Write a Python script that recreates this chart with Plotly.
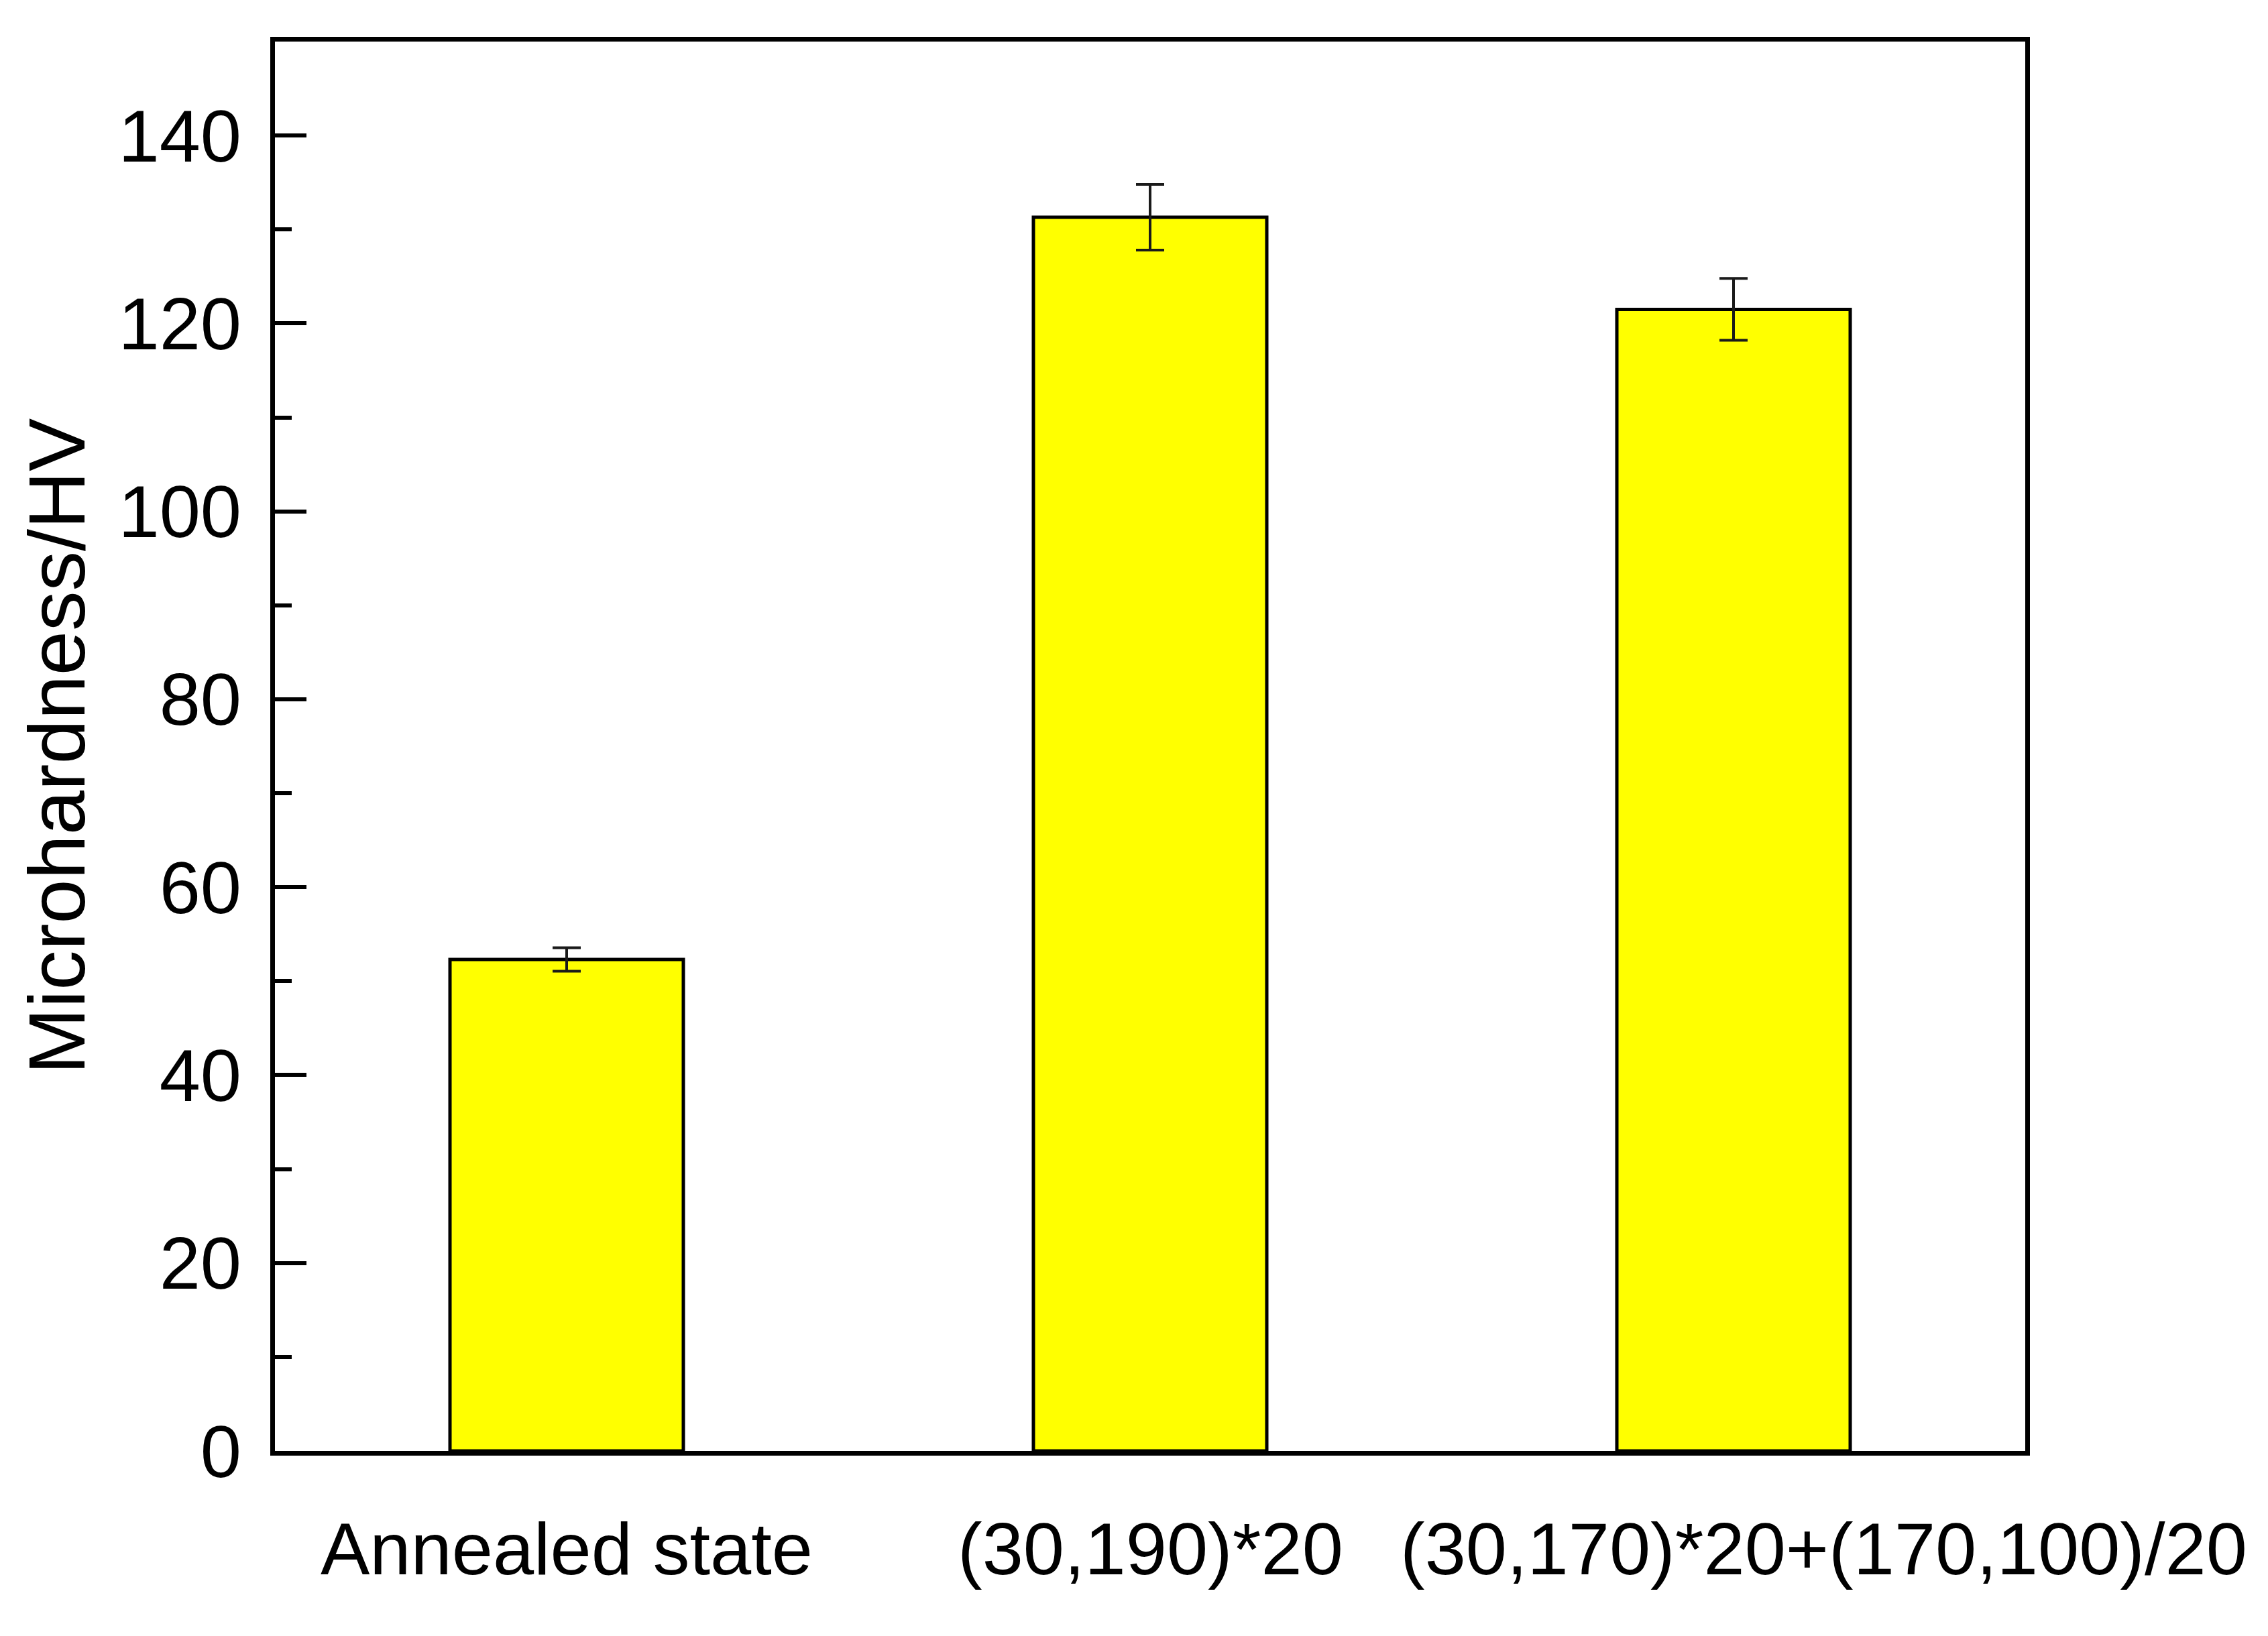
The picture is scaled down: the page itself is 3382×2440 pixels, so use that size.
import plotly.graph_objects as go

categories = ["Annealed state", "(30,190)*20", "(30,170)*20+(170,100)/20"]
hardness = [52.3, 131.3, 121.5]
errors = [1.25, 3.5, 3.3]
label_shift = [0, 0, 134]

y_ticks = [0, 20, 40, 60, 80, 100, 120, 140]

FONT = "Liberation Sans, Arial, sans-serif"

fig = go.Figure()
fig.add_trace(go.Bar(
    x=categories,
    y=hardness,
    width=0.4,
    marker=dict(color="#FFFF00", line=dict(color="#000000", width=5)),
    error_y=dict(type="data", array=errors, visible=True,
                 color="#1a1a1a", thickness=4, width=21),
))

for cat, dx in zip(categories, label_shift):
    fig.add_annotation(x=cat, y=0, xref="x", yref="paper",
                       text=cat, showarrow=False, xanchor="center", yanchor="top",
                       xshift=dx, yshift=-82,
                       font=dict(family=FONT, size=110, color="#000000"))

fig.update_layout(
    width=3382, height=2440,
    margin=dict(l=402, r=370, t=54, b=284),
    paper_bgcolor="white", plot_bgcolor="white",
    showlegend=False,
    font=dict(family=FONT, color="#000000"),
)
fig.update_xaxes(
    type="category", range=[-0.5, 2.5],
    showticklabels=False, ticks="",
    showline=True, linecolor="#000000", linewidth=7, mirror=True,
    showgrid=False, zeroline=False,
)
fig.update_yaxes(
    range=[0, 150], tickvals=y_ticks,
    ticks="inside", ticklen=47, tickwidth=6, tickcolor="#000000",
    minor=dict(dtick=10, ticks="inside", ticklen=25, tickwidth=6, tickcolor="#000000"),
    tickfont=dict(family=FONT, size=110, color="#000000"),
    ticklabelstandoff=21,
    showline=True, linecolor="#000000", linewidth=7, mirror=True,
    showgrid=False, zeroline=False,
    title=dict(text="Microhardness/HV", font=dict(family=FONT, size=119, color="#000000"), standoff=12),
)

fig.write_html("out.html")
